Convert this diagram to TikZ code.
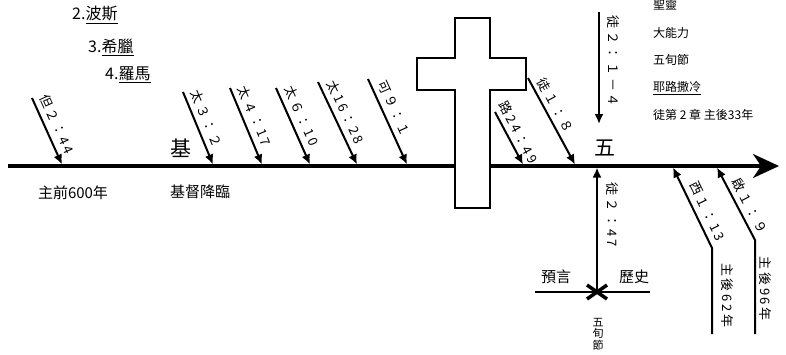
\documentclass[tikz,border=0pt]{standalone}
\usepackage{fontspec}
\setmainfont{Noto Sans CJK TC}
\newfontfamily\labfont[LetterSpace=20]{Noto Sans CJK TC}
\usetikzlibrary{arrows.meta}
\begin{document}
\begin{tikzpicture}[x=1pt,y=-1pt,
  axis/.style={line width=3.2pt},
  arr/.style={line width=2pt,-{Latex[length=10pt,width=9pt]}},
  lab/.style={font=\labfont\fontsize{13}{13}\selectfont, inner sep=5pt, anchor=south},
  hd/.style={font=\fontsize{21}{21}\selectfont, inner sep=0pt},
  tx/.style={font=\fontsize{15}{15}\selectfont, inner sep=0pt},
  ls/.style={font=\fontsize{12}{12}\selectfont, inner sep=0pt, anchor=west},
  tl/.style={font=\fontsize{16}{16}\selectfont, inner sep=0pt, anchor=west},
]
\useasboundingbox (0,0) rectangle (786,354);
% main time line
\coordinate (L) at (8,166);
\coordinate (R) at (779,166);
\draw[axis,-{Stealth[length=26pt,width=24pt,inset=8pt]}] (L) -- (R);
% cross
\draw[line width=2.4pt, fill=white, line join=miter]
  (455,208) -- (455,90) -- (417,90) -- (417,58) -- (455,58) -- (455,18)
  -- (490,18) -- (490,58) -- (526,58) -- (526,90) -- (490,90) -- (490,208) -- cycle;
% top-left list
\node[tl] (p2) at (72,15) {2.\underline{波斯}};
\node[tl] (p3) at (88,47) {3.\underline{希臘}};
\node[tl] (p4) at (105,75) {4.\underline{羅馬}};
% right list
\node[ls] (r0) at (653,5) {聖靈};
\node[ls] (r1) at (653,33) {大能力};
\node[ls] (r2) at (653,60) {五旬節};
\node[ls] (r3) at (653,88) {\underline{耶路撒冷}};
\node[ls] (r4) at (653,115) {徒第 2 章 主後33年};
% big marks
\node[hd] (ji) at (181,148) {基};
\node[hd] (wu) at (605,148) {五};
\node[tx] (bc) at (73,193) {主前600年};
\node[tx] (jd) at (200,192) {基督降臨};
% downward arrows
\coordinate (a1s) at (32,98);   \coordinate (a1e) at (62,164.5);
\coordinate (a2s) at (183,92);  \coordinate (a2e) at (213,164.5);
\coordinate (a3s) at (230,88);  \coordinate (a3e) at (262,164.5);
\coordinate (a4s) at (276,88);  \coordinate (a4e) at (310,164.5);
\coordinate (a5s) at (318,82);  \coordinate (a5e) at (357,164.5);
\coordinate (a6s) at (368,79);  \coordinate (a6e) at (407,164.5);
\coordinate (a7s) at (495,112); \coordinate (a7e) at (523,164.5);
\coordinate (a8s) at (528,78);  \coordinate (a8e) at (575,164.5);
\draw[arr] (a1s) -- node[lab, sloped, pos=0.47] {但２：44} (a1e);
\draw[arr] (a2s) -- node[lab, sloped, pos=0.43] {太３：２} (a2e);
\draw[arr] (a3s) -- node[lab, sloped, pos=0.43] {太４：17} (a3e);
\draw[arr] (a4s) -- node[lab, sloped, pos=0.43] {太６：10} (a4e);
\draw[arr] (a5s) -- node[lab, sloped, pos=0.43] {太16：28} (a5e);
\draw[arr] (a6s) -- node[lab, sloped, pos=0.40] {可９：１} (a6e);
\draw[arr] (a7s) -- node[lab, sloped, pos=0.49, inner sep=4pt] {路24：49} (a7e);
\draw[arr] (a8s) -- node[lab, sloped, pos=0.38, inner sep=4pt] {徒１：８} (a8e);
% Acts 2:1-4
\coordinate (d1s) at (599,12); \coordinate (d1e) at (599,124);
\draw[arr] (d1s) -- node[lab, rotate=-90, pos=0.44, inner sep=7pt] {徒２：１－４} (d1e);
% Acts 2:47 from the cross-mark up to the line
\coordinate (X) at (597,292);
\coordinate (A47) at (597,167.5);
\coordinate (H1) at (535,292); \coordinate (H2) at (650,292);
\draw[line width=2pt] (H1) -- (H2);
\draw[arr] (X) -- node[lab, rotate=-90, pos=0.62, inner sep=8pt] {徒２：47} (A47);
\draw[line width=3.5pt] ([shift={(-10,-7)}]X) -- ([shift={(10,7)}]X)
                        ([shift={(-10,7)}]X) -- ([shift={(10,-7)}]X);
\node[tx] (yy) at (556,277) {預言};
\node[tx] (ls2) at (634,277) {歷史};
\node[font=\fontsize{11}{11.5}\selectfont, align=center, inner sep=0pt] (wjj) at (598,334) {五\\旬\\節};
% Colossians / Revelation
\coordinate (w1) at (712,334); \coordinate (w2) at (712,248); \coordinate (w3) at (673,167.5);
\draw[arr, line join=miter] (w1) -- node[lab, rotate=-90, pos=0.45, inner sep=8pt] {主後62年}
  (w2) -- node[lab, rotate=-64, pos=0.39, inner sep=5pt] {西１：13} (w3);
\coordinate (v1) at (755,334); \coordinate (v2) at (755,240); \coordinate (v3) at (717,167.5);
\draw[arr, line join=miter] (v1) -- node[lab, rotate=-90, pos=0.48, inner sep=3pt] {主後96年}
  (v2) -- node[lab, rotate=-62, pos=0.40, inner sep=4pt] {啟１：９} (v3);
\end{tikzpicture}
\end{document}
